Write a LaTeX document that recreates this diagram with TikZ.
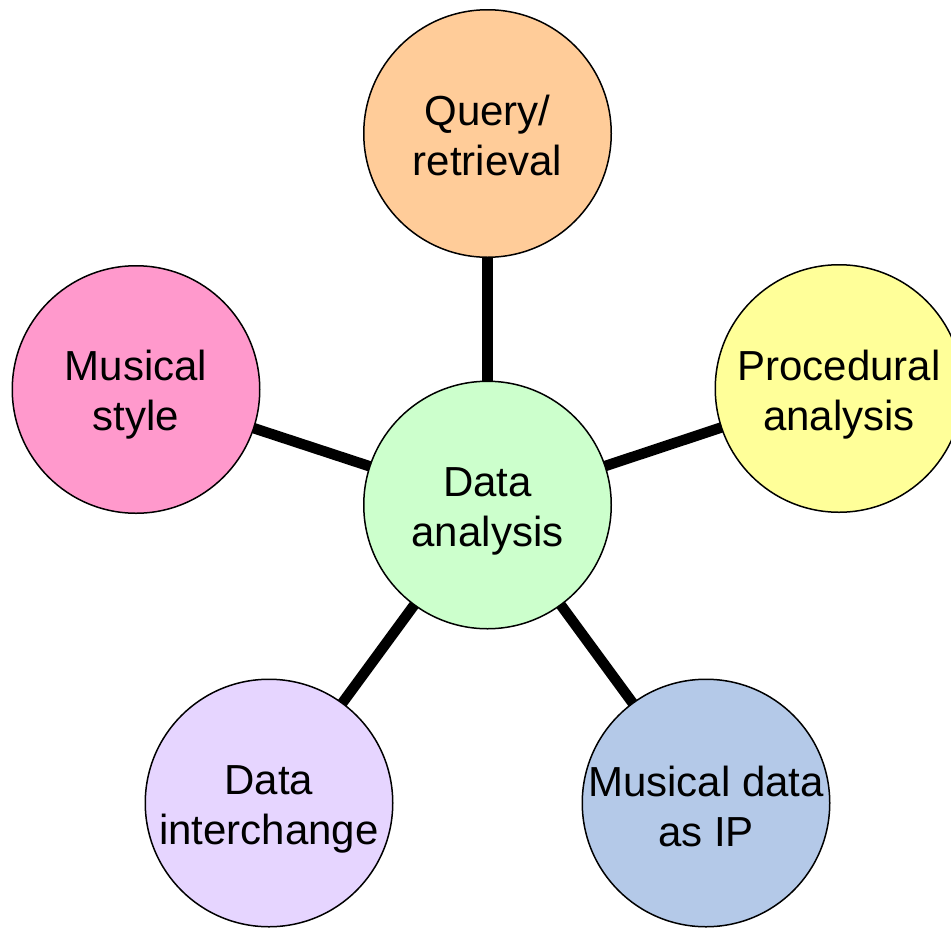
\documentclass[tikz,border=0pt]{standalone}
\usepackage{fontspec}
\setmainfont{Liberation Sans}
\usetikzlibrary{backgrounds}
\definecolor{cquery}{HTML}{FFCC99}
\definecolor{cproc}{HTML}{FFFF99}
\definecolor{cstyle}{HTML}{FF99CC}
\definecolor{ccenter}{HTML}{CCFFCC}
\definecolor{cinter}{HTML}{E6D5FF}
\definecolor{cip}{HTML}{B4C9E8}
\tikzset{
  bub/.style={circle, draw=black, line width=1.5pt, minimum size=247.5pt, inner sep=0pt},
  lbl/.style={align=center, inner sep=0pt, font=\fontsize{42}{50}\selectfont},
  link/.style={line width=10.5pt, draw=black}
}
\begin{document}
\begin{tikzpicture}[x=1pt, y=-1pt]
\useasboundingbox (0,0) rectangle (951,927);
\clip (0,0) rectangle (951,927);
\node[bub, fill=ccenter] (c) at (487.5,505) {};
\node[bub, fill=cquery] (q) at (487.5,133.5) {};
\node[bub, fill=cproc] (p) at (839,388.5) {};
\node[bub, fill=cstyle] (s) at (136,389.5) {};
\node[bub, fill=cinter] (i) at (269,803) {};
\node[bub, fill=cip] (m) at (706,803) {};
\node[lbl, yshift=-6pt] (ct) at (c) {Data\\analysis};
\node[lbl, yshift=-1.5pt] (qt) at (q) {Query/\\retrieval};
\node[lbl, yshift=-6.5pt] (pt) at (p) {Procedural\\analysis};
\node[lbl, yshift=-5.5pt] (st) at (s) {Musical\\style};
\node[lbl, yshift=-6pt] (it) at (i) {Data\\interchange};
\node[lbl, yshift=-3pt] (mt) at (m) {Musical data\\as IP};
\begin{scope}[on background layer]
\draw[link] (c.center) -- (q.center);
\draw[link] (c.center) -- (p.center);
\draw[link] (c.center) -- (s.center);
\draw[link] (c.center) -- (i.center);
\draw[link] (c.center) -- (m.center);
\end{scope}
\end{tikzpicture}
\end{document}
